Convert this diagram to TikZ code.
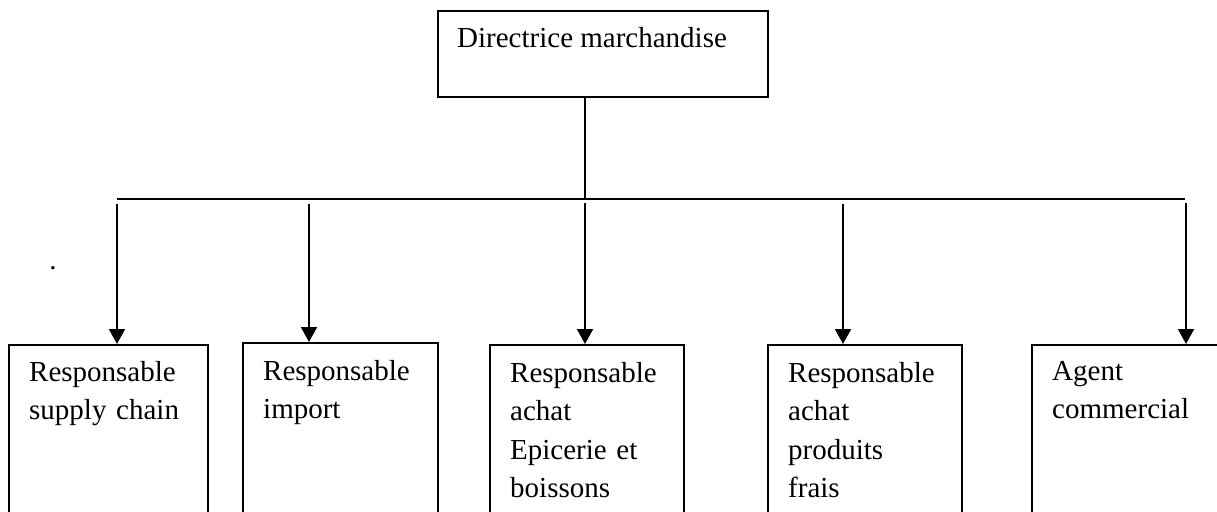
\documentclass[tikz,border=0pt]{standalone}
\usepackage{fontspec}
\setmainfont{Liberation Serif}
\usetikzlibrary{arrows.meta}
\tikzset{
  box/.style={draw, line width=2pt, inner sep=0pt, anchor=north west},
  lbl/.style={anchor=base west, inner sep=0pt, text width=175pt, align=left,
    font=\fontsize{29}{38.5}\selectfont},
  title/.style={anchor=base west, inner sep=0pt, font=\fontsize{29}{38.5}\selectfont},
  arr/.style={line width=2pt, -{Triangle[width=16pt,length=15pt]}},
  link/.style={line width=2pt},
}
\begin{document}
\begin{tikzpicture}[x=1pt,y=-1pt]
\clip (0,0) rectangle (1217,511);
% top box
\node[box, minimum width=330pt, minimum height=86pt] (dm) at (437,10) {};
\node[title] (dmt) at (457,48) {Directrice marchandise};
% bottom boxes (open at the bottom of the page)
\node[box, minimum width=199pt, minimum height=300pt] (b1) at (8,344) {};
\node[box, minimum width=195pt, minimum height=300pt] (b2) at (242,342) {};
\node[box, minimum width=194pt, minimum height=300pt] (b3) at (489,344) {};
\node[box, minimum width=194pt, minimum height=300pt] (b4) at (767,344) {};
\node[box, minimum width=260pt, minimum height=300pt] (b5) at (1031,344) {};
% labels
\node[lbl] (t1) at (29,381) {Responsable\\supply chain};
\node[lbl] (t2) at (263,380) {Responsable\\import};
\node[lbl] (t3) at (510,382) {Responsable\\achat\\Epicerie et\\boissons};
\node[lbl] (t4) at (788,382) {Responsable\\achat\\produits\\frais};
\node[lbl] (t5) at (1052,380) {Agent\\commercial};
\node[title, anchor=base] (dot) at (53,269) {.};
% connectors
\coordinate (hub) at (585,199);
\coordinate (busL) at (117,199);
\coordinate (busR) at (1185,199);
\draw[link] (dm.south -| hub) -- (hub);
\draw[link] (busL) -- (busR);
\coordinate (s1) at (117,204);
\coordinate (s2) at (309,204);
\coordinate (s3) at (585,203);
\coordinate (s4) at (843,204);
\coordinate (s5) at (1186,203);
\draw[arr] (s1) -- (s1 |- b1.north);
\draw[arr] (s2) -- (s2 |- b2.north);
\draw[arr] (s3) -- (s3 |- b3.north);
\draw[arr] (s4) -- (s4 |- b4.north);
\draw[arr] (s5) -- (s5 |- b5.north);
\end{tikzpicture}
\end{document}
